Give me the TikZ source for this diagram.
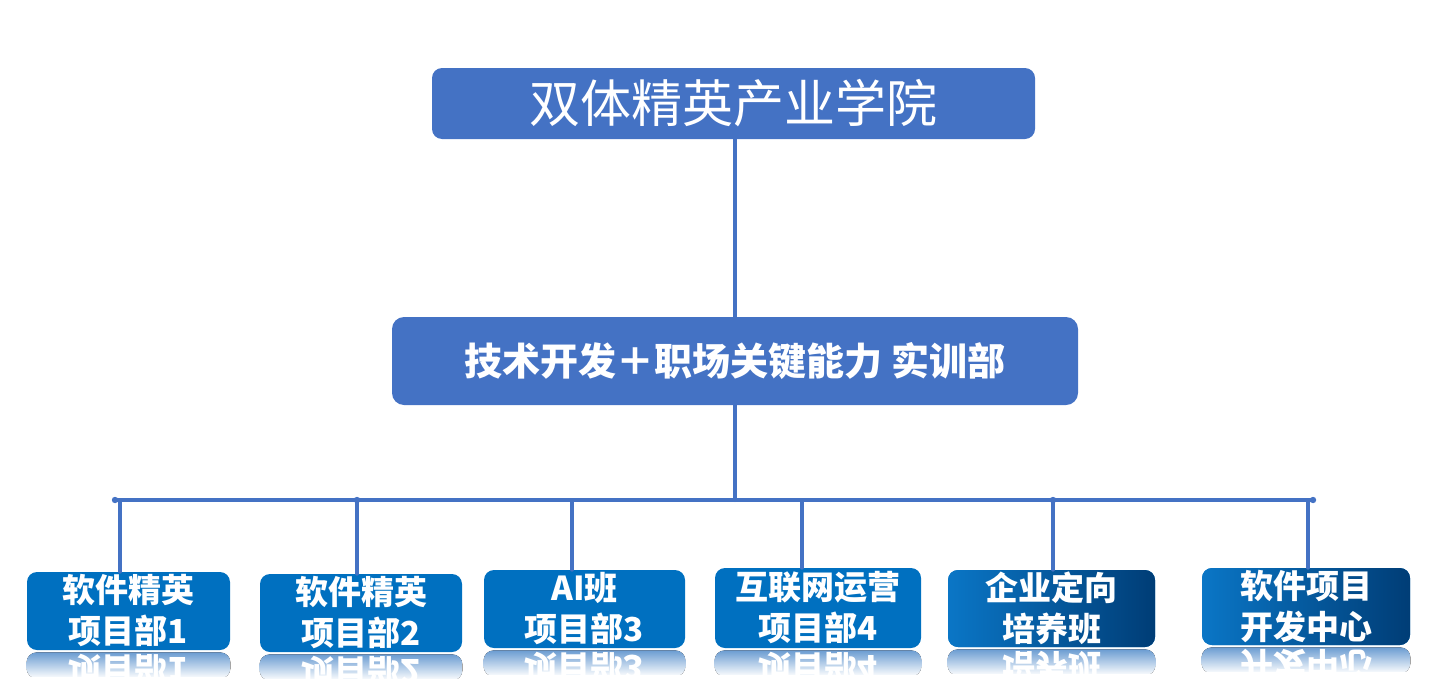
\documentclass[tikz,border=0pt]{standalone}
\usepackage{fontspec}
\setmainfont{Noto Sans CJK SC}
\usetikzlibrary{calc}
\definecolor{hblue}{HTML}{4472C4}
\definecolor{lblue}{HTML}{0070C0}
\definecolor{gleft}{HTML}{0A76C6}
\definecolor{gmid}{HTML}{0063AE}
\definecolor{gdark}{HTML}{003D76}
\definecolor{rblue}{HTML}{6C9DD2}
\newcommand\mkrefl[2]{%
  \begin{scope}
    \clip ([yshift=-1pt]#1.south west) rectangle ([yshift=-13pt]#1.south east);
    \fill[top color=rblue, bottom color=white, rounded corners=5pt]
      ([yshift=-1pt]#1.south west) rectangle ([yshift=-14pt]#1.south east);
    \node[reflt] at ([yshift=-10pt]#1.south) {#2};
  \end{scope}}
\begin{document}
\begin{tikzpicture}[x=0.5pt,y=-0.5pt,
  conn/.style={line width=2pt, draw=hblue, line cap=round},
  topbox/.style={fill=hblue, rounded corners=5pt, text=white, inner sep=0pt,
    minimum width=301.5pt, minimum height=35.5pt, font=\fontsize{25.5}{30}\selectfont},
  midbox/.style={fill=hblue, rounded corners=6pt, text=white, inner sep=0pt,
    minimum width=343pt, minimum height=44pt, font=\bfseries\fontsize{19}{22}\selectfont},
  leaf/.style={fill=lblue, rounded corners=5pt, text=white, inner sep=0pt, align=center,
    minimum height=39pt, font=\bfseries\fontsize{16.5}{20.5}\selectfont},
  gleaf/.style={leaf, left color=gleft, middle color=gmid, right color=gdark},
  reflt/.style={text=white, yscale=-1, transform shape, inner sep=0pt,
    font=\bfseries\fontsize{16.5}{20.5}\selectfont},
  dotc/.style={fill=hblue}]
\useasboundingbox (0,0) rectangle (1440,696);

\node[topbox] (top) at (733.5,103.5) {双体精英产业学院};
\node[midbox] (mid) at (735,361) {技术开发＋职场关键能力 实训部};

\node[leaf, minimum width=101.5pt] (b1) at (128.5,611) {软件精英\\项目部1};
\node[leaf, minimum width=101pt] (b2) at (361,613) {软件精英\\项目部2};
\node[leaf, minimum width=100.5pt] (b3) at (584.5,609) {AI班\\项目部3};
\node[leaf, minimum width=103pt, minimum height=40pt] (b4) at (818,608) {互联网运营\\项目部4};
\node[gleaf, minimum width=103.5pt, minimum height=38.5pt] (b5) at (1051.5,608.5) {企业定向\\培养班};
\node[gleaf, minimum width=104pt, minimum height=38.5pt] (b6) at (1306,606.5) {软件项目\\开发中心};

\mkrefl{b1}{项目部1}
\mkrefl{b2}{项目部2}
\mkrefl{b3}{项目部3}
\mkrefl{b4}{项目部4}
\mkrefl{b5}{培养班}
\mkrefl{b6}{开发中心}

\coordinate (busL) at (115,500);
\coordinate (busR) at (1313,500);
\coordinate (d1) at (120,500);
\coordinate (d2) at (357,500);
\coordinate (d3) at (572,500);
\coordinate (d4) at (802,500);
\coordinate (d5) at (1053,500);
\coordinate (d6) at (1308,500);

\draw[conn] (mid.north) -- (mid.north |- top.south);
\draw[conn] (mid.south) -- (mid.south |- busL);
\draw[conn] (busL) -- (busR);
\foreach \i in {1,...,6} {\draw[conn] (d\i) -- (d\i |- b\i.north);}
\foreach \p in {busL,busR,d2,d5} {\fill[dotc] (\p) circle (1.6pt);}
\end{tikzpicture}
\end{document}
